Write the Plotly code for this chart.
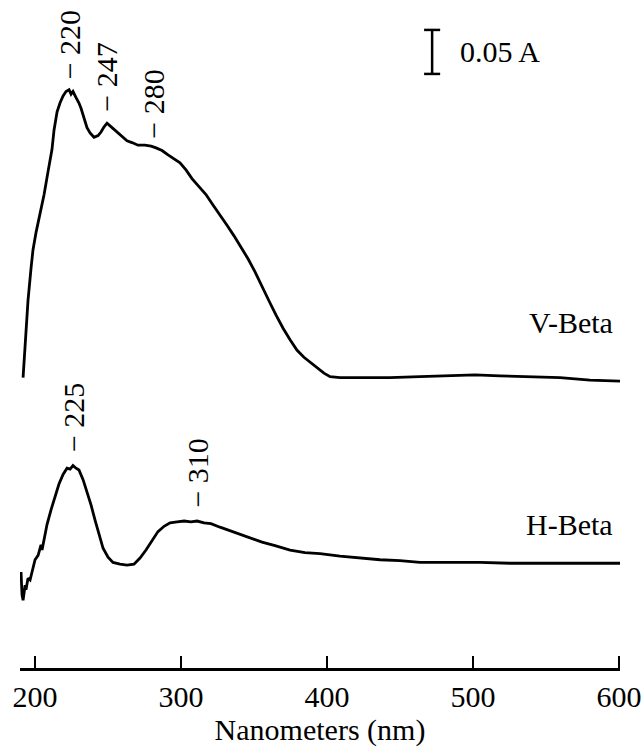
import plotly.graph_objects as go

# ---- data (wavelength in nm, absorbance as displayed, traces offset) ----
v_nm = [191.8, 193.2, 195.2, 197.3, 198.6, 200.7, 203.4, 206.2, 208.9, 211.6, 213.0, 215.1,
        217.1, 219.2, 221.2, 223.3, 224.7, 226.0, 228.1, 230.1, 231.5, 233.6, 235.6, 237.7,
        240.4, 243.2, 245.2, 247.3, 249.3, 251.4, 253.4, 256.2, 259.6, 263.0, 266.4, 270.5,
        275.3, 279.5, 282.9, 287.0, 291.1, 295.2, 299.3, 303.4, 307.5, 312.3, 317.1, 321.9,
        326.7, 331.5, 336.3, 341.1, 345.9, 350.7, 355.5, 360.3, 365.1, 369.9, 374.7, 379.5,
        384.2, 389.0, 393.8, 397.9, 402.1, 408.9, 422.6, 443.2, 463.7, 484.2, 501.4, 518.5,
        539.0, 559.6, 580.1, 600.7]
v_abs = [0.330, 0.367, 0.418, 0.455, 0.475, 0.495, 0.515, 0.538, 0.564, 0.589, 0.611, 0.632,
         0.642, 0.650, 0.655, 0.657, 0.652, 0.655, 0.648, 0.642, 0.636, 0.625, 0.614, 0.608,
         0.603, 0.605, 0.609, 0.615, 0.619, 0.616, 0.613, 0.609, 0.603, 0.599, 0.597, 0.594,
         0.594, 0.593, 0.591, 0.588, 0.583, 0.578, 0.574, 0.566, 0.556, 0.547, 0.538, 0.526,
         0.515, 0.503, 0.491, 0.478, 0.465, 0.450, 0.433, 0.417, 0.401, 0.386, 0.373, 0.361,
         0.353, 0.347, 0.341, 0.335, 0.331, 0.330, 0.330, 0.330, 0.331, 0.332, 0.333, 0.332,
         0.331, 0.330, 0.327, 0.326]

h_nm = [190.4, 191.1, 191.8, 193.2, 193.8, 195.2, 196.6, 197.9, 200.0, 202.1, 204.1, 204.8,
        206.2, 208.2, 211.0, 213.7, 216.4, 219.2, 221.9, 224.0, 226.0, 228.1, 230.1, 232.9,
        235.6, 238.4, 241.1, 243.8, 246.6, 250.0, 253.4, 258.2, 263.0, 267.8, 271.9, 276.0,
        280.1, 284.2, 288.4, 292.5, 297.3, 302.1, 306.8, 311.0, 315.8, 320.5, 326.7, 333.6,
        340.4, 347.3, 355.5, 364.4, 374.7, 384.9, 395.2, 408.9, 422.6, 436.3, 450.0, 463.7,
        484.2, 504.8, 525.3, 545.9, 566.4, 587.0, 600.7]
h_abs = [0.109, 0.083, 0.077, 0.094, 0.089, 0.102, 0.100, 0.109, 0.123, 0.128, 0.140, 0.134,
         0.148, 0.163, 0.180, 0.195, 0.209, 0.220, 0.227, 0.226, 0.230, 0.227, 0.225, 0.214,
         0.200, 0.185, 0.168, 0.151, 0.136, 0.126, 0.120, 0.118, 0.117, 0.118, 0.125, 0.134,
         0.145, 0.155, 0.161, 0.165, 0.166, 0.167, 0.166, 0.167, 0.165, 0.164, 0.160, 0.156,
         0.152, 0.148, 0.143, 0.139, 0.134, 0.131, 0.130, 0.127, 0.125, 0.123, 0.122, 0.120,
         0.120, 0.120, 0.119, 0.119, 0.119, 0.119, 0.119]

x_ticks = [200, 300, 400, 500, 600]
series_names = ["V-Beta", "H-Beta"]

# peak labels: (label text, wavelength at which label sits, series, pixel gap above curve)
peak_labels = [("220", 223.3, "V", 8), ("247", 249.3, "V", 9), ("280", 281.5, "V", 6),
               ("225", 226.0, "H", 12), ("310", 311.0, "H", 11)]

scale_bar_value = 0.05
scale_bar_x = 472.0
scale_bar_bottom = 0.675

FONT = "Liberation Serif, Times New Roman, serif"
FS = 30

fig = go.Figure()
fig.add_trace(go.Scatter(x=v_nm, y=v_abs, mode="lines", name=series_names[0],
                         line=dict(color="black", width=2.8), showlegend=False))
fig.add_trace(go.Scatter(x=h_nm, y=h_abs, mode="lines", name=series_names[1],
                         line=dict(color="black", width=2.8), showlegend=False))


def interp(xs, ys, x):
    for i in range(len(xs) - 1):
        if xs[i] <= x <= xs[i + 1]:
            t = (x - xs[i]) / (xs[i + 1] - xs[i])
            return ys[i] + t * (ys[i + 1] - ys[i])
    return ys[-1]


for txt, wl, s, gap in peak_labels:
    xs, ys = (v_nm, v_abs) if s == "V" else (h_nm, h_abs)
    yv = interp(xs, ys, wl)
    fig.add_annotation(x=wl, y=yv, xref="x", yref="y", text="\u2212 " + txt,
                       textangle=-90, showarrow=False, xanchor="center", yanchor="bottom",
                       yshift=gap, font=dict(family=FONT, size=FS, color="black"))

# series labels
fig.add_annotation(x=597, y=0.393, xref="x", yref="y", text=series_names[0], showarrow=False,
                   xanchor="right", yanchor="middle", font=dict(family=FONT, size=FS, color="black"))
fig.add_annotation(x=597, y=0.1625, xref="x", yref="y", text=series_names[1], showarrow=False,
                   xanchor="right", yanchor="middle", font=dict(family=FONT, size=FS, color="black"))

# scale bar
top = scale_bar_bottom + scale_bar_value
fig.add_shape(type="line", x0=scale_bar_x, x1=scale_bar_x, y0=scale_bar_bottom, y1=top,
              xref="x", yref="y", line=dict(color="black", width=2.5))
for yy in (scale_bar_bottom, top):
    fig.add_shape(type="line", x0=scale_bar_x - 5.5, x1=scale_bar_x + 5.5, y0=yy, y1=yy,
                  xref="x", yref="y", line=dict(color="black", width=2.5))
fig.add_annotation(x=scale_bar_x + 18, y=(scale_bar_bottom + top) / 2, xref="x", yref="y",
                   text=f"{scale_bar_value:.2f} A", showarrow=False, xanchor="left",
                   yanchor="middle", font=dict(family=FONT, size=FS, color="black"))

fig.update_layout(
    width=644, height=748,
    margin=dict(l=20, r=24, t=0, b=80),
    paper_bgcolor="white", plot_bgcolor="white",
    xaxis=dict(range=[189.7, 600.7], tickvals=x_ticks, ticktext=[str(t) for t in x_ticks],
               ticks="inside", ticklen=12, tickwidth=2, tickcolor="black",
               showline=True, linecolor="black", linewidth=2.5, showgrid=False, zeroline=False,
               tickfont=dict(family=FONT, size=FS, color="black"),
               ticklabelstandoff=0,
               title=dict(text="Nanometers (nm)", font=dict(family=FONT, size=FS, color="black"),
                          standoff=6)),
    yaxis=dict(range=[0, 0.759], visible=False, showgrid=False, zeroline=False),
)

fig.write_html("out.html")
